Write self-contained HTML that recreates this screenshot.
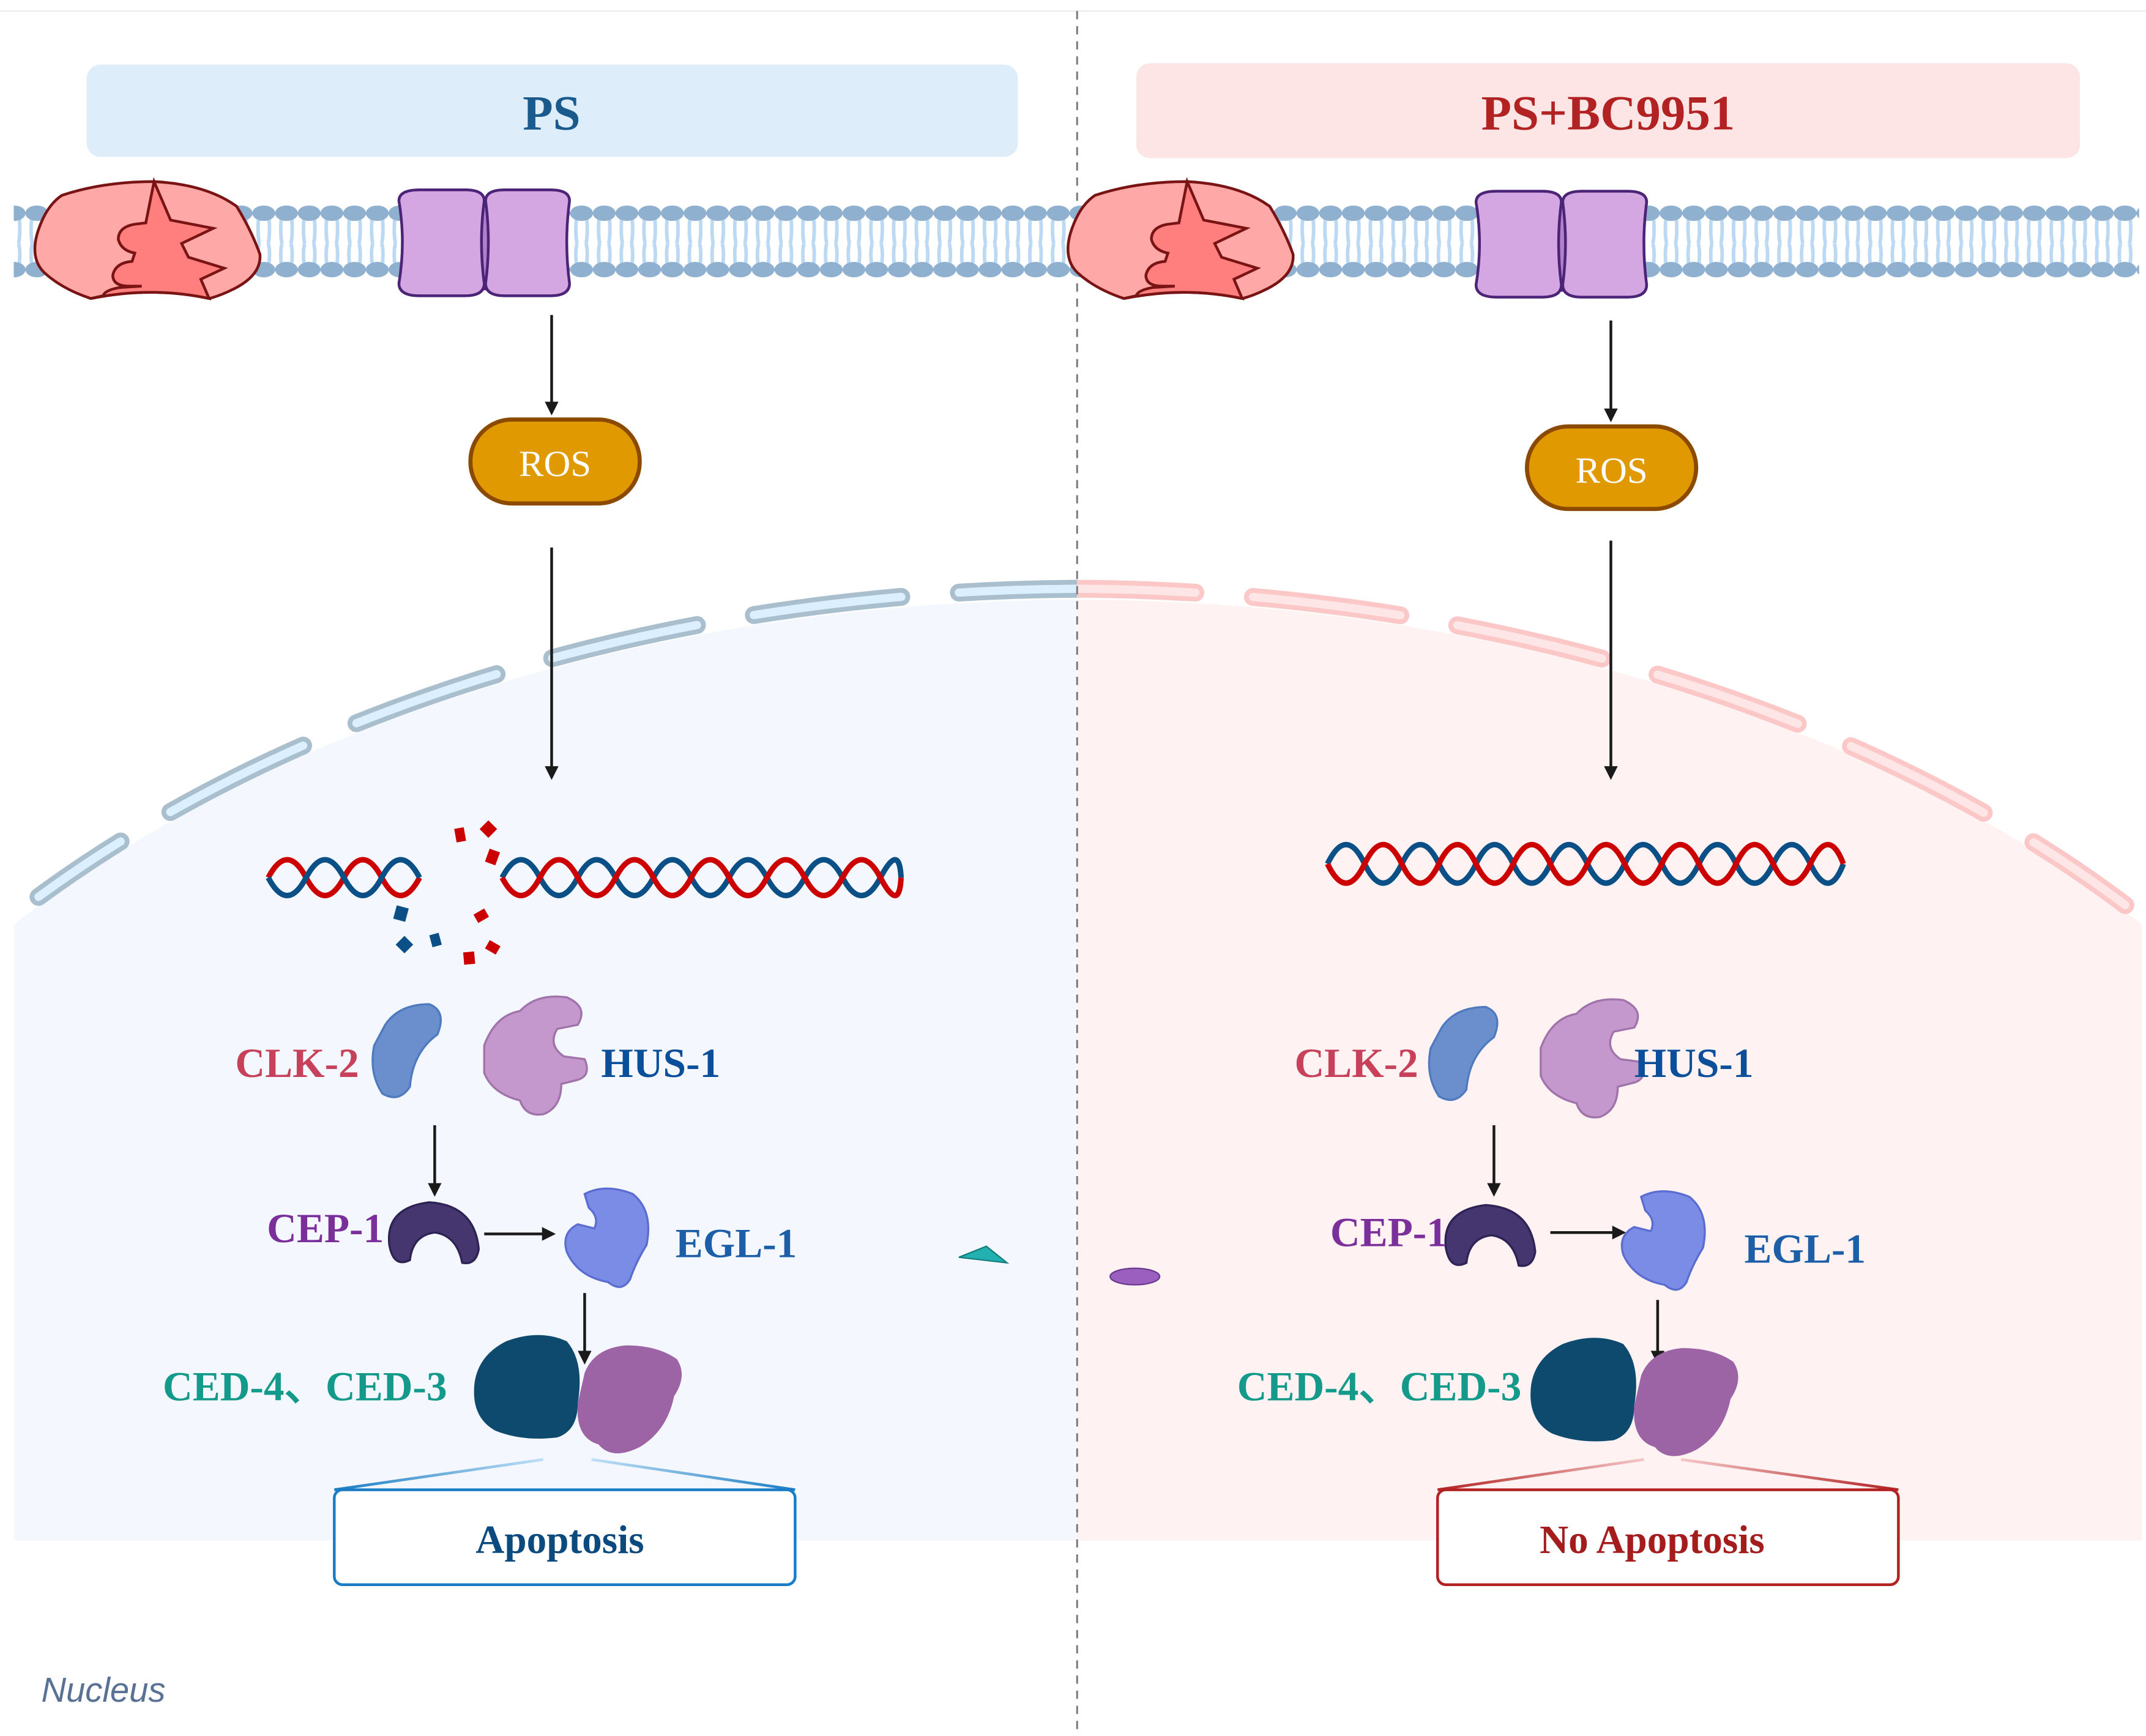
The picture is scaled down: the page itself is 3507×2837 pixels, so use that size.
<!DOCTYPE html>
<html><head><meta charset="utf-8"><style>html,body{margin:0;padding:0;background:#fff}svg{display:block}</style></head><body>
<svg xmlns="http://www.w3.org/2000/svg" width="3507" height="2837" viewBox="0 0 1560 1262" preserveAspectRatio="none">
<defs>
<pattern id="mem" x="2" y="0" width="16.5" height="1262" patternUnits="userSpaceOnUse">
<path d="M4.5 158 Q3.5 170 5 177 M12 158 Q13 170 11.5 177 M4.5 192 Q3.5 182 5 177 M12 192 Q13 182 11.5 177" stroke="#bcd9f4" stroke-width="2.6" fill="none"/>
<ellipse cx="8.25" cy="155" rx="8.3" ry="5.6" fill="#90b0cf"/>
<ellipse cx="8.25" cy="196" rx="8.3" ry="5.6" fill="#90b0cf"/>
</pattern>
<clipPath id="cl"><rect x="0" y="0" width="783" height="1262"/></clipPath>
<clipPath id="cr"><rect x="783" y="0" width="800" height="1262"/></clipPath>
<marker id="ah" markerWidth="10" markerHeight="10" refX="8" refY="5" orient="auto" markerUnits="userSpaceOnUse"><path d="M0 0 L10 5 L0 10 Z" fill="#1a1a1a"/></marker>
<linearGradient id="gb" x1="0" x2="1"><stop offset="0" stop-color="#1a7cc4"/><stop offset="1" stop-color="#bfe0f5"/></linearGradient>
<linearGradient id="gb2" x1="1" x2="0"><stop offset="0" stop-color="#1a7cc4"/><stop offset="1" stop-color="#bfe0f5"/></linearGradient>
<linearGradient id="gr" x1="0" x2="1"><stop offset="0" stop-color="#b22222"/><stop offset="1" stop-color="#f5c6c6"/></linearGradient>
<linearGradient id="gr2" x1="1" x2="0"><stop offset="0" stop-color="#b22222"/><stop offset="1" stop-color="#f5c6c6"/></linearGradient>
</defs>

<line x1="0" y1="8" x2="1560" y2="8" stroke="#ececec" stroke-width="1"/>

<g clip-path="url(#cl)">
<path d="M10 1120 L10 672 A1030 690 0 0 1 783 436 L783 1120 Z" fill="#f4f8fe"/>
</g>
<g clip-path="url(#cr)">
<path d="M1557 1120 L1557 672 A1030 690 0 0 0 783 436 L783 1120 Z" fill="#fff2f3"/>
</g>

<g fill="none" stroke-linecap="round">
<g clip-path="url(#cl)">
<path d="M783 428 A1023 672 0 0 0 28 652" stroke="#a9bfcd" stroke-width="13" stroke-dasharray="108 42" stroke-dashoffset="22"/>
<path d="M783 428 A1023 672 0 0 0 28 652" stroke="#dcefff" stroke-width="6" stroke-dasharray="108 42" stroke-dashoffset="22"/>
</g>
<g clip-path="url(#cr)">
<path d="M783 428 A1023 672 0 0 1 1545 658" stroke="#fbc7c7" stroke-width="13" stroke-dasharray="108 42" stroke-dashoffset="22"/>
<path d="M783 428 A1023 672 0 0 1 1545 658" stroke="#ffe6e6" stroke-width="6" stroke-dasharray="108 42" stroke-dashoffset="22"/>
</g>
</g>

<line x1="783" y1="8" x2="783" y2="1262" stroke="#777" stroke-width="1.3" stroke-dasharray="6 5"/>

<rect x="63" y="47" width="677" height="67" rx="10" fill="#ddeefa"/>
<text x="401" y="94" text-anchor="middle" font-family="Liberation Serif, serif" font-weight="bold" font-size="36" fill="#1a5a8c">PS</text>
<rect x="826" y="46" width="686" height="69" rx="10" fill="#fde5e5"/>
<text x="1169" y="94" text-anchor="middle" font-family="Liberation Serif, serif" font-weight="bold" font-size="36" fill="#b22222">PS+BC9951</text>

<rect x="10" y="148" width="1545" height="56" fill="url(#mem)"/>

<g id="redp" stroke="#7a1414" stroke-width="2">
<path d="M66 217 Q45 210 32 198 Q22 188 27 170 Q33 150 45 142 Q75 132 112 132 Q150 134 172 150 Q183 168 189 185 Q190 200 170 210 Q160 215 152 217 Q110 208 66 217 Z" fill="#fea8a8"/>
<path d="M112 132 L106 162 L98 163 Q86 165 86 174 Q88 182 98 184 L96 190 Q84 191 82 200 Q82 208 94 208 L103 208 L87 209 Q76 211 75 215 L66 217 Q110 208 152 217 L146 203 L163 195 L137 187 L132 177 L155 166 L124 160 Z" fill="#ff7f7f"/>
</g>
<g id="chan" stroke="#4b2477" stroke-width="2">
<rect x="330" y="144" width="45" height="66" fill="#b37fcb"/>
<path d="M290 146 Q290 138 305 138 L338 138 Q352 138 352 146 Q348 176 352 206 Q352 215 338 215 L305 215 Q290 215 290 206 Q295 176 290 146 Z" fill="#d4a6e2"/>
<path d="M353 146 Q353 138 367 138 L400 138 Q414 138 414 146 Q410 176 414 206 Q414 215 400 215 L367 215 Q353 215 353 206 Q357 176 353 146 Z" fill="#d4a6e2"/>
</g>
<use href="#redp" x="751" y="0"/>
<use href="#chan" x="783" y="1"/>

<g stroke="#1a1a1a" stroke-width="2" marker-end="url(#ah)">
<line x1="401" y1="229" x2="401" y2="300"/>
<line x1="401" y1="398" x2="401" y2="565"/>
<line x1="1171" y1="233" x2="1171" y2="305"/>
<line x1="1171" y1="393" x2="1171" y2="565"/>
<line x1="316" y1="818" x2="316" y2="868"/>
<line x1="352" y1="897" x2="402" y2="897"/>
<line x1="425" y1="940" x2="425" y2="990"/>
<line x1="1086" y1="818" x2="1086" y2="868"/>
<line x1="1127" y1="896" x2="1180" y2="896"/>
<line x1="1205" y1="945" x2="1205" y2="990"/>
</g>

<rect x="342" y="305" width="123" height="61" rx="30" fill="#e09a00" stroke="#8b4a00" stroke-width="3"/>
<text x="403.5" y="346" text-anchor="middle" font-family="Liberation Serif, serif" font-size="27" fill="#fff">ROS</text>
<rect x="1110" y="310" width="123" height="60" rx="30" fill="#e09a00" stroke="#8b4a00" stroke-width="3"/>
<text x="1171.5" y="351" text-anchor="middle" font-family="Liberation Serif, serif" font-size="27" fill="#fff">ROS</text>

<g fill="none" stroke-width="4">
<path d="M195 638 q 13.75 -26 27.5 0 t 27.5 0 t 27.5 0 t 27.5 0" stroke="#cc0000"/>
<path d="M195 638 q 13.75 26 27.5 0 t 27.5 0 t 27.5 0 t 27.5 0" stroke="#0a4f86"/>
<path d="M365 638 q 13.75 -26 27.5 0 t 27.5 0 t 27.5 0 t 27.5 0 t 27.5 0 t 27.5 0 t 27.5 0 t 27.5 0 t 27.5 0 t 27.5 0 t 15 0" stroke="#0a4f86"/>
<path d="M365 638 q 13.75 26 27.5 0 t 27.5 0 t 27.5 0 t 27.5 0 t 27.5 0 t 27.5 0 t 27.5 0 t 27.5 0 t 27.5 0 t 27.5 0 t 15 0" stroke="#cc0000"/>
</g>
<g fill="#cc0000">
<rect x="331" y="602" width="7" height="10" transform="rotate(-10 334 607)"/>
<rect x="351" y="598" width="9" height="9" transform="rotate(45 355 602)"/>
<rect x="354" y="618" width="8" height="10" transform="rotate(20 358 623)"/>
<rect x="345" y="662" width="9" height="7" transform="rotate(-30 350 665)"/>
<rect x="337" y="692" width="8" height="9" transform="rotate(-5 341 696)"/>
<rect x="354" y="685" width="9" height="7" transform="rotate(30 358 688)"/>
</g>
<g fill="#0a4f86">
<rect x="287" y="659" width="9" height="10" transform="rotate(15 291 664)"/>
<rect x="290" y="682" width="9" height="9" transform="rotate(45 294 686)"/>
<rect x="313" y="679" width="7" height="9" transform="rotate(-15 316 683)"/>
</g>

<g fill="none" stroke-width="4">
<path d="M965 628 q 13.5 -28 27 0 t 27 0 t 27 0 t 27 0 t 27 0 t 27 0 t 27 0 t 27 0 t 27 0 t 27 0 t 27 0 t 27 0 t 27 0 t 24 0" stroke="#0a4f86"/>
<path d="M965 628 q 13.5 28 27 0 t 27 0 t 27 0 t 27 0 t 27 0 t 27 0 t 27 0 t 27 0 t 27 0 t 27 0 t 27 0 t 27 0 t 27 0 t 24 0" stroke="#cc0000"/>
</g>

<g id="prots">
<path d="M280 745 Q290 730 312 730 Q325 735 318 752 Q300 765 298 790 Q290 802 278 795 Q268 780 272 760 Z" fill="#6a8fcc" stroke="#4e7ac0" stroke-width="1.5"/>
<path d="M352 760 Q360 738 378 735 Q390 722 412 725 Q428 732 420 745 L405 748 Q398 760 410 768 L425 770 Q430 782 420 785 L408 788 Q408 805 395 810 Q382 812 378 800 Q358 795 352 780 Z" fill="#c498cc" stroke="#a074aa" stroke-width="1.5"/>
<path d="M283 905 Q280 878 312 874 Q345 876 348 908 Q346 920 336 918 Q332 898 316 896 Q300 898 298 916 Q286 922 283 905 Z" fill="#453670" stroke="#2e2355" stroke-width="1.5"/>
<path d="M425 868 Q440 860 460 868 Q475 880 470 905 Q462 918 458 930 Q452 940 442 932 Q420 928 412 910 Q408 896 420 890 L432 893 Q436 885 428 878 Z" fill="#7b8ce6" stroke="#5b6dd0" stroke-width="1.5"/>
<path d="M345 1005 Q348 985 368 975 Q392 966 412 975 Q425 990 420 1020 Q420 1040 405 1045 Q380 1048 360 1040 Q342 1030 345 1005 Z" fill="#0d4a6e"/>
<path d="M425 998 Q432 980 455 978 Q478 978 492 988 Q500 1000 490 1015 Q485 1040 465 1052 Q445 1062 435 1050 Q418 1045 420 1020 Z" fill="#9c64a4"/>
</g>
<use href="#prots" x="768" y="2"/>

<g font-family="Liberation Serif, serif" font-weight="bold" font-size="30">
<text x="261" y="783" text-anchor="end" fill="#c8415a">CLK-2</text>
<text x="437" y="783" fill="#0b4f9a">HUS-1</text>
<text x="279" y="903" text-anchor="end" fill="#7a2f9a">CEP-1</text>
<text x="491" y="914" fill="#1c5fa8">EGL-1</text>
<text x="325" y="1018" text-anchor="end" fill="#139a8a">CED-4、CED-3</text>
<text x="1031" y="783" text-anchor="end" fill="#c8415a">CLK-2</text>
<text x="1188" y="783" fill="#0b4f9a">HUS-1</text>
<text x="1052" y="906" text-anchor="end" fill="#7a2f9a">CEP-1</text>
<text x="1268" y="918" fill="#1c5fa8">EGL-1</text>
<text x="1106" y="1018" text-anchor="end" fill="#139a8a">CED-4、CED-3</text>
</g>

<line x1="243" y1="1083" x2="395" y2="1061" stroke="url(#gb)" stroke-width="2"/>
<line x1="578" y1="1083" x2="430" y2="1061" stroke="url(#gb2)" stroke-width="2"/>
<rect x="243" y="1083" width="335" height="69" rx="6" fill="#fff" stroke="#1a7cc4" stroke-width="2"/>
<text x="407" y="1129" text-anchor="middle" font-family="Liberation Serif, serif" font-weight="bold" font-size="29" fill="#0b4a7e">Apoptosis</text>
<line x1="1045" y1="1083" x2="1195" y2="1061" stroke="url(#gr)" stroke-width="2"/>
<line x1="1380" y1="1083" x2="1222" y2="1061" stroke="url(#gr2)" stroke-width="2"/>
<rect x="1045" y="1083" width="335" height="69" rx="6" fill="#fff" stroke="#b22222" stroke-width="2"/>
<text x="1201" y="1129" text-anchor="middle" font-family="Liberation Serif, serif" font-weight="bold" font-size="29" fill="#a51c1c">No Apoptosis</text>

<path d="M697 914 L732 918 L717 906 Z" fill="#22b0b0" stroke="#137c7c" stroke-width="1"/>
<ellipse cx="825" cy="928" rx="18" ry="6" fill="#9b5fc0" stroke="#6a3a90" stroke-width="1"/>

<text x="30" y="1237" font-family="Liberation Sans, sans-serif" font-style="italic" font-size="25" fill="#5a7196">Nucleus</text>
</svg>
</body></html>
